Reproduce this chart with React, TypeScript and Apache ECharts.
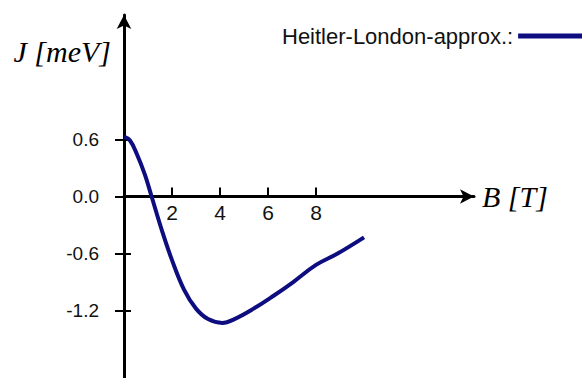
import React, { useEffect, useRef } from "react";
import * as echarts from "echarts";

const fieldB: number[] = [0, 0.25, 0.53, 0.87, 1.15, 1.57, 2.0, 2.5, 3.0, 3.5, 4.1, 4.6, 5.4, 6.2, 7.05, 8.0, 8.9, 10.0];
const exchangeJ: number[] = [0.63, 0.59, 0.45, 0.23, 0.0, -0.35, -0.67, -0.98, -1.18, -1.29, -1.33, -1.29, -1.18, -1.05, -0.9, -0.72, -0.6, -0.43];
const xTicks: number[] = [2, 4, 6, 8];
const yTicks: number[] = [-1.2, -0.6, 0, 0.6];
const seriesName = "Heitler-London-approx.:";
const xName = "B [T]";
const yName = "J [meV]";

export default function App() {
  const ref = useRef<HTMLDivElement>(null);
  useEffect(() => {
    if (!ref.current) return;
    const chart = echarts.init(ref.current, null, { renderer: "svg" });
    const axisColor = "#000";
    const yMin = -1.91;
    const yMax = 1.91;
    const gridTop = 15;
    const gridBottomPx = 378;
    const zeroPx = gridTop + ((yMax - 0) / (yMax - yMin)) * (gridBottomPx - gridTop);
    chart.setOption({
      animation: false,
      backgroundColor: "#fff",
      grid: { left: 124, right: 108, top: gridTop, bottom: 0, containLabel: false, outerBoundsMode: "none" },
      legend: {
        show: true,
        left: 277,
        top: 20,
        align: "right",
        icon: "rect",
        itemWidth: 80,
        itemHeight: 5,
        textStyle: { fontFamily: "Liberation Sans", fontSize: 22, color: "#111" },
        data: [seriesName],
      },
      xAxis: [
        {
          type: "value",
          min: 0,
          max: 14.58,
          position: "bottom",
          offset: -(gridBottomPx - zeroPx),
          name: xName,
          nameLocation: "end",
          nameGap: 8,
          nameTextStyle: {
            fontFamily: "Liberation Serif",
            fontStyle: "italic",
            fontSize: 30,
            color: "#000",
            align: "left",
            verticalAlign: "middle",
            padding: [7, 0, 0, 0],
          },
          axisLine: {
            show: true,
            onZero: false,
            symbol: ["none", "arrow"],
            symbolSize: [11, 14],
            lineStyle: { color: axisColor, width: 3 },
          },
          axisTick: { show: true, inside: true, length: 9, customValues: xTicks, lineStyle: { color: axisColor, width: 2 } },
          axisLabel: {
            show: true,
            customValues: xTicks,
            margin: 5,
            fontFamily: "Liberation Sans",
            fontSize: 21,
            color: "#111",
          },
          splitLine: { show: false },
        },
      ],
      yAxis: [
        {
          type: "value",
          min: yMin,
          max: yMax,
          name: yName,
          nameLocation: "end",
          nameGap: -36,
          nameMoveOverlap: false,
          nameTextStyle: {
            fontFamily: "Liberation Serif",
            fontStyle: "italic",
            fontSize: 30,
            color: "#000",
            align: "right",
            verticalAlign: "middle",
            padding: [0, 13, 0, 0],
          },
          axisLine: {
            show: true,
            onZero: false,
            symbol: ["none", "arrow"],
            symbolSize: [11, 14],
            lineStyle: { color: axisColor, width: 3 },
          },
          axisTick: { show: true, inside: false, length: 9, customValues: yTicks, lineStyle: { color: axisColor, width: 2 } },
          axisLabel: {
            show: true,
            customValues: yTicks,
            margin: 25,
            fontFamily: "Liberation Sans",
            fontSize: 19,
            color: "#111",
            formatter: (v: number) => v.toFixed(1),
          },
          splitLine: { show: false },
        },
        {
          type: "value",
          min: yMin,
          max: yMax,
          position: "left",
          axisLine: { show: false, onZero: false },
          axisTick: { show: true, inside: true, length: 7, customValues: yTicks, lineStyle: { color: axisColor, width: 2 } },
          axisLabel: { show: false },
          splitLine: { show: false },
        },
      ],
      series: [
        {
          name: seriesName,
          type: "line",
          smooth: 0.4,
          showSymbol: false,
          symbol: "none",
          xAxisIndex: 0,
          yAxisIndex: 0,
          data: fieldB.map((b, i) => [b, exchangeJ[i]]),
          lineStyle: { color: "#0d0d80", width: 4 },
          itemStyle: { color: "#0d0d80" },
        },
      ],
    });
    return () => chart.dispose();
  }, []);
  return <div ref={ref} style={{ position: "absolute", left: 0, top: 0, width: 582, height: 378 }} />;
}
